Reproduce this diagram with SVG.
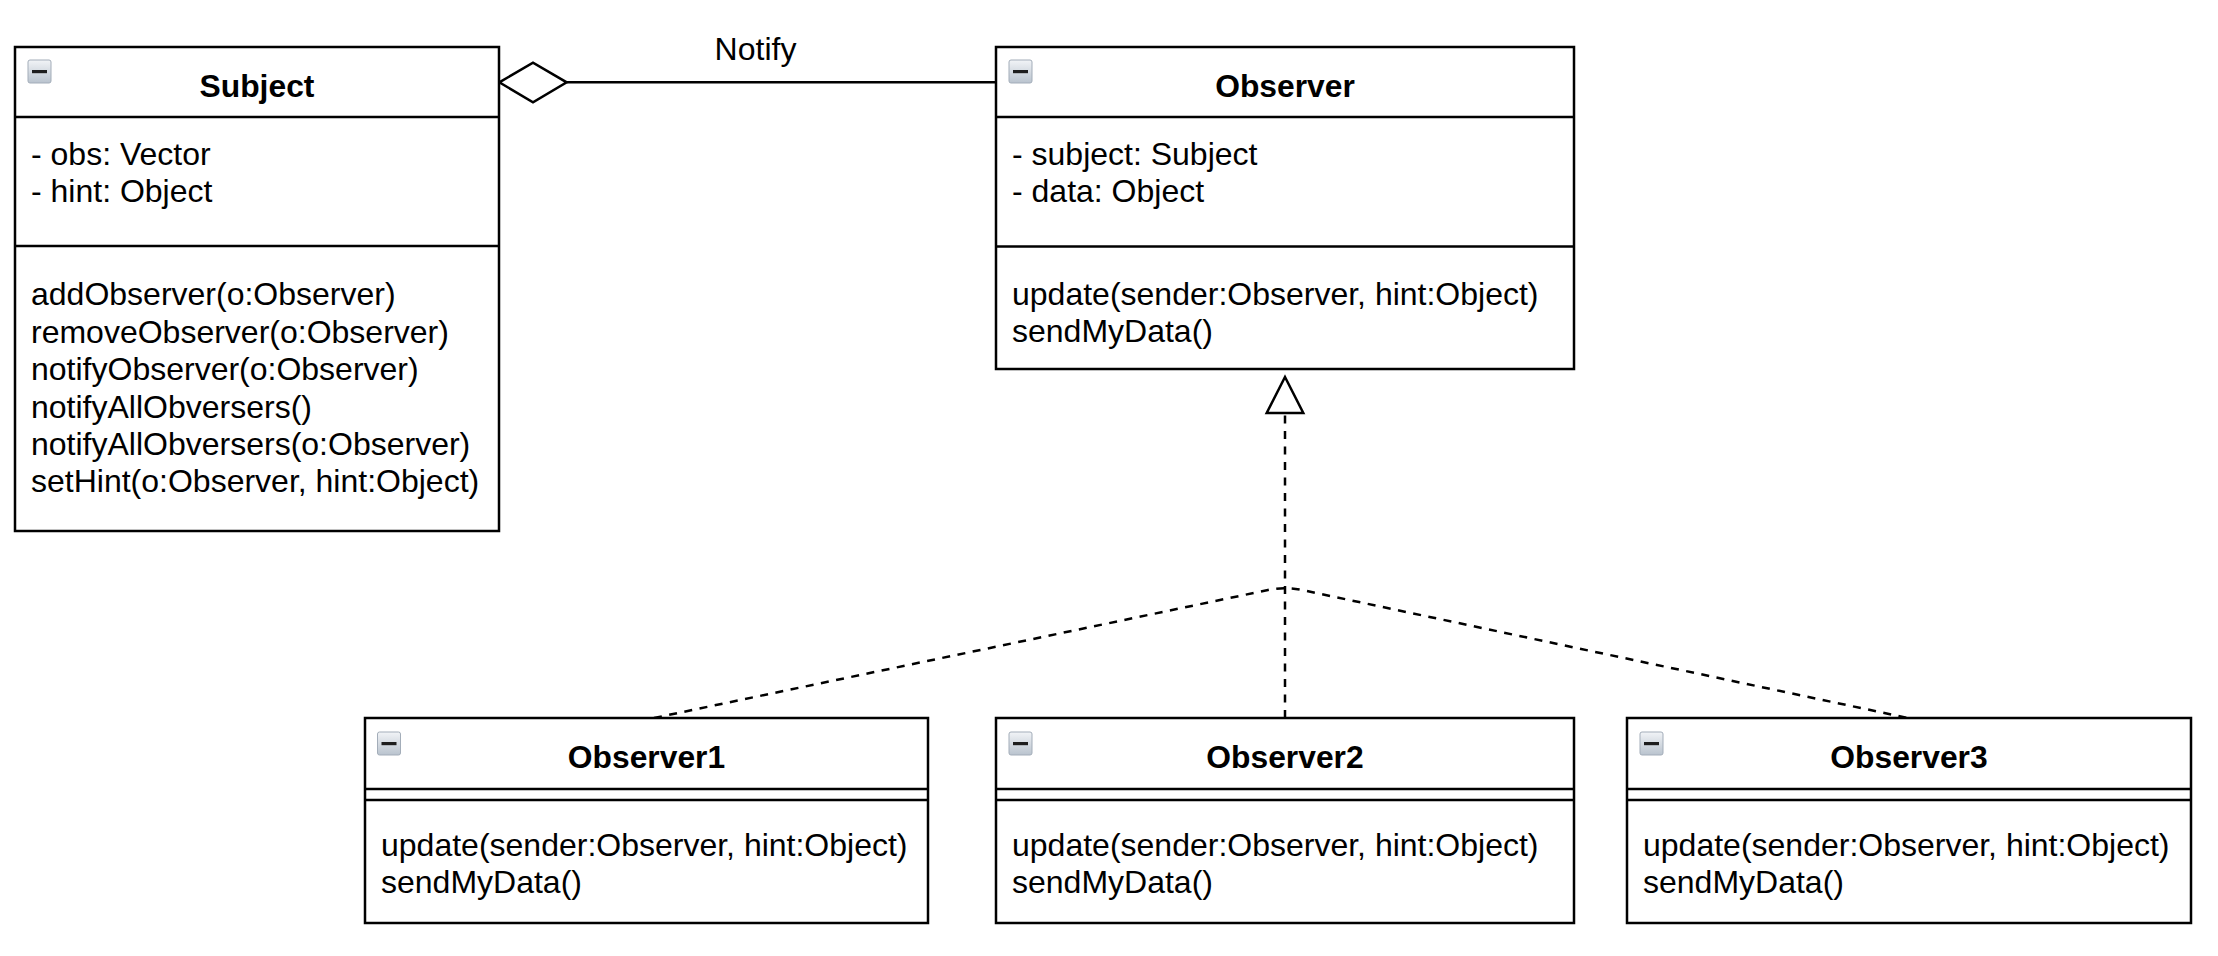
<svg xmlns="http://www.w3.org/2000/svg" width="2218" height="956" viewBox="0 0 2218 956">
<style>
.box{fill:#ffffff;stroke:#000000;stroke-width:2.5}
.ln{fill:none;stroke:#000000;stroke-width:2.5}
.t{font-family:"Liberation Sans",Arial,Helvetica,sans-serif;font-size:32px;fill:#000000}
.h{font-family:"Liberation Sans",Arial,Helvetica,sans-serif;font-size:31.8px;font-weight:bold;fill:#000000;text-anchor:middle}
.dash{fill:none;stroke:#000000;stroke-width:2.5;stroke-dasharray:8 7.5}
</style>
<defs>
<linearGradient id="ig" x1="0" y1="0" x2="0" y2="1">
<stop offset="0" stop-color="#f2f4f7"/>
<stop offset="1" stop-color="#b9c3ce"/>
</linearGradient>
<g id="icon">
<rect x="0.5" y="0.5" width="23" height="23" rx="2" fill="url(#ig)" stroke="#a3adb9" stroke-width="1"/>
<rect x="4.5" y="10.5" width="15" height="3.2" fill="#1e1e1e"/>
</g>
</defs>
<rect width="2218" height="956" fill="#ffffff"/>

<g id="connectors">
<line class="ln" x1="566.7" y1="82.3" x2="996" y2="82.3"/>
<polygon class="box" points="499.3,82.3 533,62.7 566.7,82.3 533,102.3"/>
<text class="t" x="755.5" y="60" text-anchor="middle">Notify</text>
<line class="dash" x1="1285" y1="718" x2="1285" y2="413"/>
<path class="dash" d="M654,718 L1268,590 Q1285,586.5 1302,590 L1908,718"/>
<polygon class="box" points="1285,377 1303.3,413 1266.7,413"/>
</g>

<g id="subject">
<rect class="box" x="15" y="47" width="484" height="484"/>
<line class="ln" x1="15" y1="117" x2="499" y2="117"/>
<line class="ln" x1="15" y1="246" x2="499" y2="246"/>
<use href="#icon" x="27.5" y="59.5"/>
<text class="h" x="257" y="97">Subject</text>
<text class="t" x="31" y="165">- obs: Vector</text>
<text class="t" x="31" y="202">- hint: Object</text>
<text class="t" x="31" y="305.4">addObserver(o:Observer)</text>
<text class="t" x="31" y="342.8">removeObserver(o:Observer)</text>
<text class="t" x="31" y="380.2">notifyObserver(o:Observer)</text>
<text class="t" x="31" y="417.6">notifyAllObversers()</text>
<text class="t" x="31" y="455">notifyAllObversers(o:Observer)</text>
<text class="t" x="31" y="492.4">setHint(o:Observer, hint:Object)</text>
</g>

<g id="observer">
<rect class="box" x="996" y="47" width="578" height="322"/>
<line class="ln" x1="996" y1="117" x2="1574" y2="117"/>
<line class="ln" x1="996" y1="246.5" x2="1574" y2="246.5"/>
<use href="#icon" x="1008.5" y="59.5"/>
<text class="h" x="1285" y="97">Observer</text>
<text class="t" x="1012" y="165">- subject: Subject</text>
<text class="t" x="1012" y="202">- data: Object</text>
<text class="t" x="1012" y="305">update(sender:Observer, hint:Object)</text>
<text class="t" x="1012" y="342.4">sendMyData()</text>
</g>

<g id="observer1">
<rect class="box" x="365" y="718" width="563" height="205"/>
<line class="ln" x1="365" y1="789" x2="928" y2="789"/>
<line class="ln" x1="365" y1="800" x2="928" y2="800"/>
<use href="#icon" x="377" y="731.5"/>
<text class="h" x="646.5" y="768">Observer1</text>
<text class="t" x="381" y="856">update(sender:Observer, hint:Object)</text>
<text class="t" x="381" y="893.4">sendMyData()</text>
</g>

<g id="observer2">
<rect class="box" x="996" y="718" width="578" height="205"/>
<line class="ln" x1="996" y1="789" x2="1574" y2="789"/>
<line class="ln" x1="996" y1="800" x2="1574" y2="800"/>
<use href="#icon" x="1008.5" y="731.5"/>
<text class="h" x="1285" y="768">Observer2</text>
<text class="t" x="1012" y="856">update(sender:Observer, hint:Object)</text>
<text class="t" x="1012" y="893.4">sendMyData()</text>
</g>

<g id="observer3">
<rect class="box" x="1627" y="718" width="564" height="205"/>
<line class="ln" x1="1627" y1="789" x2="2191" y2="789"/>
<line class="ln" x1="1627" y1="800" x2="2191" y2="800"/>
<use href="#icon" x="1639.5" y="731.5"/>
<text class="h" x="1909" y="768">Observer3</text>
<text class="t" x="1643" y="856">update(sender:Observer, hint:Object)</text>
<text class="t" x="1643" y="893.4">sendMyData()</text>
</g>
</svg>
